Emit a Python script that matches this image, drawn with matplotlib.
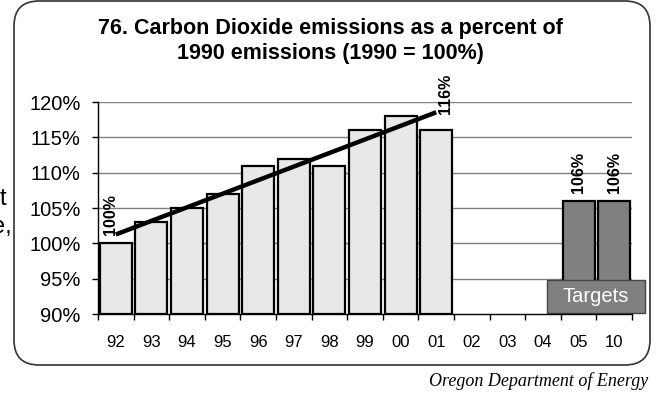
import numpy as np
import matplotlib
matplotlib.use("Agg")
import matplotlib.pyplot as plt
from matplotlib.patches import FancyBboxPatch, Rectangle

plt.rcParams['font.family'] = ['Liberation Sans', 'DejaVu Sans']

years = ["92", "93", "94", "95", "96", "97", "98", "99", "00", "01",
         "02", "03", "04", "05", "10"]
# actual emissions (percent of 1990), None where no data
actual = [100, 103, 105, 107, 111, 112, 111, 116, 118, 116,
          None, None, None, None, None]
# target values
targets = [None] * 13 + [106, 106]
# which bars get a value label
labelled = ["92", "01", "05", "10"]

x = np.arange(len(years))

fig = plt.figure(figsize=(6.6, 3.94), dpi=100)
ax = fig.add_axes([98 / 660, 1 - 314 / 394, 534 / 660, 212 / 394])

# rounded frame around the whole chart
frame = FancyBboxPatch((0.14, 0.29), 6.36, 3.64,
                       boxstyle="round,pad=0,rounding_size=0.25",
                       transform=fig.dpi_scale_trans, facecolor="none",
                       edgecolor="#333333", linewidth=1.2)
fig.patches.append(frame)

base = 90
act_x = [i for i, v in enumerate(actual) if v is not None]
act_v = [actual[i] for i in act_x]
tgt_x = [i for i, v in enumerate(targets) if v is not None]
tgt_v = [targets[i] for i in tgt_x]

ax.bar(act_x, np.array(act_v) - base, bottom=base, width=0.9,
       color="#e8e8e8", edgecolor="black", linewidth=1.6, zorder=3)
ax.bar(tgt_x, np.array(tgt_v) - base, bottom=base, width=0.9,
       color="#808080", edgecolor="black", linewidth=1.6, zorder=3)

# linear trend over the actual years
coef = np.polyfit(act_x, act_v, 1)
tx = np.array([act_x[0], act_x[-1]])
ax.plot(tx, np.polyval(coef, tx), color="black", linewidth=3.2,
        solid_capstyle="butt", zorder=4)

# value labels
for i, yr in enumerate(years):
    if yr not in labelled:
        continue
    v = actual[i] if actual[i] is not None else targets[i]
    dx, dy = 0, 6
    if yr == "92":
        dx = -4
    if yr == "01":
        dx, dy = 7, 12
    ax.annotate(f"{v}%", (i, v), xytext=(dx, dy), textcoords="offset points",
                rotation=90, ha="center", va="bottom", fontsize=11.5,
                fontweight="bold", zorder=5)

ax.set_xlim(-0.5, len(years) - 0.5)
ax.set_ylim(90, 120)
ax.set_yticks(np.arange(90, 121, 5))
ax.set_yticklabels([f"{v}%" for v in range(90, 121, 5)])
ax.set_xticks(x)
ax.set_xticklabels(years)
ax.set_xticks(np.arange(-0.5, len(years), 1), minor=True)
ax.tick_params(axis="x", which="major", length=0, pad=15, labelsize=12)
ax.tick_params(axis="x", which="minor", length=4, width=1, direction="out")
ax.tick_params(axis="y", length=4.5, width=1, pad=8, labelsize=14.5)

for v in range(95, 121, 5):
    ax.axhline(v, color="#808080", linewidth=1, zorder=1)

for s in ["top", "right"]:
    ax.spines[s].set_visible(False)
for s in ["left", "bottom"]:
    ax.spines[s].set_linewidth(1)
    ax.spines[s].set_zorder(6)

# Targets tag
ax.add_patch(Rectangle((0.841, 0.005), 0.183, 0.155, transform=ax.transAxes,
                       facecolor="#808080", edgecolor="#444444", linewidth=1,
                       clip_on=False, zorder=6))
ax.text(0.9325, 0.083, "Targets", transform=ax.transAxes, color="white",
        fontsize=14.5, ha="center", va="center", zorder=7)

fig.text(0.5, 1 - 41 / 394,
         "76. Carbon Dioxide emissions as a percent of\n1990 emissions (1990 = 100%)",
         ha="center", va="center", fontsize=15.5, fontweight="bold",
         linespacing=1.25)

fig.text(648 / 660, 1 - 381 / 394, "Oregon Department of Energy",
         ha="right", va="center", fontsize=13, fontstyle="italic",
         family="Liberation Serif")

# text cut off from the neighbouring page
fig.text(6 / 660, 1 - 205 / 394, "t", ha="right", va="baseline",
         fontsize=17)
fig.text(12 / 660, 1 - 233 / 394, "e,", ha="right", va="baseline",
         fontsize=17)

fig.savefig("out.png", dpi=100)
